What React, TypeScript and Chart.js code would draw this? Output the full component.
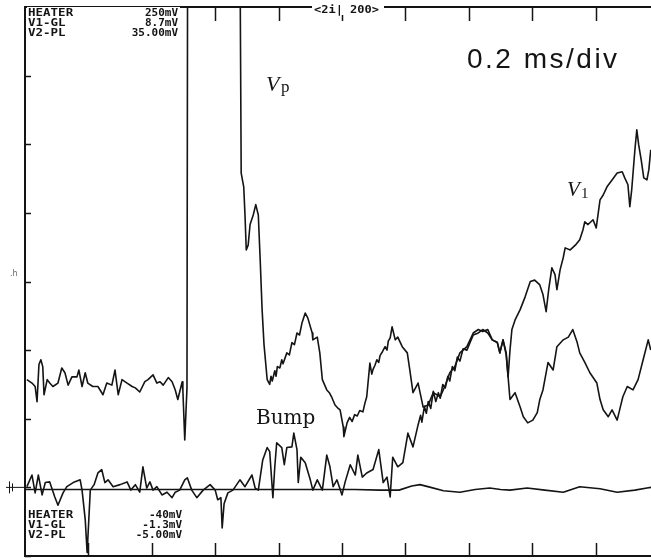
import React, { useEffect, useRef } from "react";
import { Chart, registerables } from "chart.js";

Chart.register(...registerables);

// x in screen divisions (0.2 ms/div), y in vertical divisions (0 = ground)
const xRange = [0, 9.874];
const yRange = [-1, 7];
const xTickDivs = [1, 2, 3, 4, 5, 6, 7, 8, 9];
const yTickDivs = [-1, 0, 1, 2, 3, 4, 5, 6];

const vpTrace: [number, number][] = [
  [0.03, 1.57], [0.11, 1.52], [0.16, 1.47], [0.19, 1.25], [0.22, 1.79], [0.25, 1.86], [0.28, 1.76], [0.30, 1.35],
  [0.35, 1.57], [0.39, 1.52], [0.44, 1.47], [0.52, 1.52], [0.58, 1.74], [0.63, 1.67], [0.68, 1.49], [0.74, 1.61],
  [0.82, 1.61], [0.85, 1.71], [0.90, 1.47], [0.95, 1.67], [0.99, 1.52], [1.07, 1.47], [1.15, 1.47], [1.23, 1.35],
  [1.29, 1.52], [1.37, 1.49], [1.42, 1.71], [1.47, 1.35], [1.53, 1.57], [1.61, 1.52], [1.69, 1.47], [1.74, 1.45],
  [1.81, 1.39], [1.89, 1.54], [1.94, 1.57], [2.02, 1.64], [2.08, 1.52], [2.13, 1.54], [2.18, 1.49], [2.26, 1.60],
  [2.32, 1.54], [2.37, 1.42], [2.41, 1.28], [2.48, 1.54], [2.49, 1.42], [2.52, 0.69], [2.555, 1.45], [2.565, 8],
  [3.39, 8], [3.41, 4.58], [3.45, 4.38], [3.47, 3.97], [3.49, 3.46], [3.52, 3.53], [3.55, 3.83], [3.60, 3.97],
  [3.64, 4.12], [3.68, 3.97], [3.71, 3.31], [3.74, 2.59], [3.77, 2.08], [3.82, 1.57], [3.86, 1.50], [3.88, 1.62],
  [3.90, 1.55], [3.94, 1.70], [3.96, 1.62], [3.98, 1.76], [4.02, 1.74], [4.05, 1.86], [4.07, 1.80], [4.13, 1.96],
  [4.17, 1.93], [4.21, 2.11], [4.25, 2.08], [4.29, 2.25], [4.33, 2.22], [4.37, 2.40], [4.42, 2.54], [4.46, 2.47],
  [4.53, 2.25], [4.54, 2.15], [4.61, 2.19], [4.65, 1.96], [4.69, 1.57], [4.76, 1.42], [4.80, 1.38], [4.84, 1.31],
  [4.89, 1.20], [4.93, 1.16], [4.97, 1.13], [5.02, 0.88], [5.03, 0.74], [5.08, 0.94], [5.12, 1.02], [5.16, 0.96],
  [5.20, 1.06], [5.24, 1.04], [5.28, 1.12], [5.33, 1.10], [5.36, 1.22], [5.39, 1.32], [5.44, 1.81], [5.47, 1.65],
  [5.49, 1.72], [5.52, 1.78], [5.55, 1.86], [5.58, 1.82], [5.60, 1.92], [5.64, 1.98], [5.68, 2.05], [5.71, 2.00],
  [5.73, 2.13], [5.76, 2.18], [5.79, 2.34], [5.84, 2.15], [5.88, 2.19], [5.95, 2.05], [6.03, 1.96], [6.07, 1.71],
  [6.12, 1.38], [6.20, 1.52], [6.28, 1.17], [6.36, 1.20], [6.44, 1.38], [6.55, 1.32], [6.63, 1.49], [6.70, 1.67],
  [6.78, 1.76], [6.86, 1.96], [6.97, 2.05], [7.07, 2.25], [7.15, 2.30], [7.22, 2.27], [7.30, 2.30], [7.37, 2.15],
  [7.45, 2.11], [7.49, 1.96], [7.54, 2.15], [7.59, 1.96], [7.62, 1.61], [7.65, 1.28], [7.73, 1.38], [7.81, 1.17],
  [7.86, 1.03], [7.93, 0.94], [8.01, 0.98], [8.08, 1.09], [8.12, 1.28], [8.17, 1.42], [8.25, 1.82], [8.33, 1.71],
  [8.39, 2.05], [8.49, 2.15], [8.57, 2.19], [8.64, 2.30], [8.71, 2.11], [8.75, 1.96], [8.83, 1.82], [8.91, 1.67],
  [9.02, 1.52], [9.07, 1.28], [9.12, 1.13], [9.20, 1.03], [9.26, 1.13], [9.34, 0.98], [9.39, 1.17], [9.43, 1.32],
  [9.50, 1.47], [9.59, 1.42], [9.67, 1.57], [9.75, 1.86], [9.83, 2.15], [9.87, 2.00],
];

const v1Trace: [number, number][] = [
  [0.03, 0.01], [0.11, 0.18], [0.16, -0.08], [0.21, 0.18], [0.27, -0.11], [0.32, 0.07], [0.39, 0.08], [0.47, -0.14],
  [0.52, -0.26], [0.60, -0.08], [0.66, 0.01], [0.76, 0.07], [0.87, 0.11], [0.90, -0.04], [0.95, -0.47], [0.98, -0.95],
  [0.99, -0.77], [1.03, -0.04], [1.09, 0.04], [1.15, 0.21], [1.21, 0.26], [1.26, 0.07], [1.31, 0.11], [1.39, 0.01],
  [1.50, 0.04], [1.61, 0.08], [1.67, -0.04], [1.74, 0.04], [1.81, -0.07], [1.86, 0.30], [1.92, -0.01], [1.97, 0.08],
  [2.02, -0.04], [2.08, 0.01], [2.16, -0.11], [2.24, -0.07], [2.32, -0.15], [2.37, -0.07], [2.44, -0.04], [2.52, 0.11],
  [2.56, 0.14], [2.63, -0.04], [2.71, -0.15], [2.81, -0.04], [2.92, 0.04], [3.00, -0.04], [3.04, -0.18], [3.09, -0.15],
  [3.11, -0.59], [3.14, -0.24], [3.20, -0.08], [3.28, -0.04], [3.39, 0.11], [3.47, 0.01], [3.58, 0.18], [3.63, -0.01],
  [3.68, -0.04], [3.75, 0.40], [3.82, 0.58], [3.86, 0.52], [3.91, -0.15], [3.94, 0.30], [3.97, 0.65], [4.05, 0.58],
  [4.09, 0.33], [4.13, 0.58], [4.21, 0.59], [4.24, 0.79], [4.29, 0.55], [4.31, 0.07], [4.35, 0.44], [4.42, 0.36],
  [4.50, 0.11], [4.54, -0.04], [4.61, 0.11], [4.69, -0.04], [4.76, 0.47], [4.81, 0.30], [4.86, 0.01], [4.92, 0.11],
  [5.00, -0.11], [5.05, 0.08], [5.13, 0.33], [5.21, 0.18], [5.25, 0.47], [5.32, 0.15], [5.39, 0.21], [5.49, 0.26],
  [5.58, 0.55], [5.65, 0.07], [5.71, 0.15], [5.76, -0.14], [5.80, 0.44], [5.88, 0.30], [5.96, 0.36], [6.04, 0.79],
  [6.12, 0.59], [6.20, 0.91], [6.24, 1.05], [6.26, 0.95], [6.30, 1.18], [6.33, 1.08], [6.36, 1.25], [6.40, 1.15],
  [6.44, 1.40], [6.48, 1.25], [6.52, 1.38], [6.55, 1.30], [6.59, 1.50], [6.63, 1.45], [6.67, 1.62], [6.70, 1.55],
  [6.74, 1.76], [6.78, 1.70], [6.82, 1.90], [6.86, 1.84], [6.91, 2.02], [6.97, 2.00], [7.07, 2.22], [7.15, 2.25],
  [7.22, 2.30], [7.30, 2.25], [7.37, 2.15], [7.45, 2.11], [7.49, 1.96], [7.54, 2.15], [7.59, 1.93], [7.62, 1.61],
  [7.65, 2.00], [7.68, 2.30], [7.73, 2.44], [7.81, 2.59], [7.89, 2.78], [7.97, 3.00], [8.04, 3.02], [8.12, 2.95],
  [8.17, 2.81], [8.22, 2.56], [8.26, 2.88], [8.31, 3.20], [8.36, 3.10], [8.39, 2.88], [8.44, 3.17], [8.49, 3.35],
  [8.52, 3.49], [8.60, 3.46], [8.68, 3.53], [8.75, 3.61], [8.80, 3.75], [8.83, 3.87], [8.88, 3.83], [8.96, 3.90],
  [9.01, 3.78], [9.07, 4.19], [9.12, 4.26], [9.18, 4.38], [9.26, 4.48], [9.34, 4.58], [9.42, 4.60], [9.46, 4.51],
  [9.51, 4.41], [9.54, 4.09], [9.57, 4.34], [9.62, 4.92], [9.65, 5.21], [9.68, 4.99], [9.72, 4.77], [9.76, 4.51],
  [9.81, 4.48], [9.84, 4.63], [9.87, 4.92],
];

const heaterTrace: [number, number][] = [
  [0.0, -0.03], [4.8, -0.03], [5.2, -0.03], [5.6, -0.04], [5.9, -0.04], [6.1, 0.02], [6.23, 0.04], [6.4, 0.0],
  [6.6, -0.05], [6.86, -0.07], [7.1, -0.03], [7.33, -0.01], [7.5, -0.03], [7.65, -0.04], [7.92, -0.01], [8.2, -0.04],
  [8.49, -0.07], [8.75, 0.01], [9.07, -0.02], [9.34, -0.07], [9.62, -0.04], [9.81, -0.01], [9.874, 0.0],
];

const topReadout: [string, string][] = [["HEATER", "250mV"], ["V1-GL", "8.7mV"], ["V2-PL", "35.00mV"]];
const bottomReadout: [string, string][] = [["HEATER", "-40mV"], ["V1-GL", "-1.3mV"], ["V2-PL", "-5.00mV"]];
const headerTag = "<2i| 200>";
const timebase = "0.2 ms/div";

const INK = "#141414";

const scopePlugin = {
  id: "scopeDecor",
  afterDatasetsDraw(chart: any) {
    const { ctx, chartArea } = chart;
    const xs = chart.scales.x;
    const ys = chart.scales.y;
    const L = chartArea.left, T = chartArea.top, R = chartArea.right, B = chartArea.bottom;
    ctx.save();
    ctx.strokeStyle = INK;
    ctx.fillStyle = INK;
    // frame
    ctx.lineWidth = 2;
    ctx.beginPath();
    ctx.moveTo(R + 2, T); ctx.lineTo(L, T); ctx.lineTo(L, B); ctx.lineTo(R + 2, B);
    ctx.stroke();
    // ticks
    ctx.lineWidth = 1.5;
    xTickDivs.forEach((d) => {
      const px = Math.round(xs.getPixelForValue(d)) + 0.5;
      ctx.beginPath(); ctx.moveTo(px, T); ctx.lineTo(px, T + 14); ctx.stroke();
      ctx.beginPath(); ctx.moveTo(px, B - 13); ctx.lineTo(px, B); ctx.stroke();
    });
    yTickDivs.forEach((d) => {
      const py = Math.round(ys.getPixelForValue(d)) + 0.5;
      ctx.beginPath(); ctx.moveTo(L, py); ctx.lineTo(L + 6, py); ctx.stroke();
    });
    // ground marker
    const g = ys.getPixelForValue(0);
    ctx.lineWidth = 1;
    ctx.beginPath();
    ctx.moveTo(6, g); ctx.lineTo(L, g);
    ctx.moveTo(9.5, g - 6); ctx.lineTo(9.5, g + 6);
    ctx.moveTo(12.5, g - 4); ctx.lineTo(12.5, g + 4);
    ctx.stroke();
    ctx.font = "8px 'DejaVu Sans'";
    ctx.fillStyle = "#666";
    ctx.fillText(".h", 10, ys.getPixelForValue(3) - 6);
    ctx.fillStyle = INK;

    // readouts
    const readout = (rows: [string, string][], y0: number, rightX: number, blank: boolean) => {
      ctx.save();
      if (blank) {
        ctx.fillStyle = "#fff";
        ctx.fillRect(L + 2, y0 - 9, rightX - L, rows.length * 10 + 1);
      }
      ctx.fillStyle = INK;
      rows.forEach(([name, val], i) => {
        const y = y0 + i * 10;
        ctx.save();
        ctx.translate(L + 3, y);
        ctx.scale(1.25, 1);
        ctx.font = "bold 10px 'DejaVu Sans Mono'";
        ctx.textAlign = "left";
        ctx.fillText(name, 0, 0);
        ctx.restore();
        ctx.save();
        ctx.translate(rightX, y);
        ctx.scale(1.1, 1);
        ctx.font = "bold 10px 'DejaVu Sans Mono'";
        ctx.textAlign = "right";
        ctx.fillText(val, 0, 0);
        ctx.restore();
      });
      ctx.restore();
    };
    readout(topReadout, T + 9, 178, true);
    readout(bottomReadout, B - 38, 182, false);

    // header tag across top border
    ctx.fillStyle = "#fff";
    ctx.fillRect(312, 1, 72, 14);
    ctx.fillStyle = INK;
    ctx.save();
    ctx.translate(314, 13);
    ctx.scale(1.2, 1);
    ctx.font = "bold 10px 'DejaVu Sans Mono'";
    ctx.fillText(headerTag, 0, 0);
    ctx.restore();

    // timebase label
    ctx.font = "28px 'Liberation Sans'";
    (ctx as any).letterSpacing = "2.5px";
    ctx.textAlign = "left";
    ctx.fillText(timebase, 467, 68);
    (ctx as any).letterSpacing = "0px";

    // Vp label
    ctx.font = "italic 22px 'Liberation Serif'";
    ctx.fillText("V", 266, 91);
    ctx.font = "17px 'Liberation Serif'";
    ctx.fillText("p", 281, 92);

    // V1 label
    ctx.font = "italic 21px 'Liberation Serif'";
    ctx.fillText("V", 567, 196);
    ctx.font = "15px 'Liberation Serif'";
    ctx.fillText("1", 581, 198);

    // Bump label
    ctx.font = "20px 'DejaVu Serif'";
    ctx.fillText("Bump", 256, 424);
    ctx.restore();
  },
};

export default function App() {
  const ref = useRef<HTMLCanvasElement | null>(null);
  useEffect(() => {
    if (!ref.current) return;
    const line = (data: [number, number][]) => ({
      data: data.map(([x, y]) => ({ x, y })),
      borderColor: INK,
      borderWidth: 1.6,
      pointRadius: 0,
      tension: 0,
      fill: false,
      borderJoinStyle: "round" as const,
    });
    const chart = new Chart(ref.current, {
      type: "line",
      data: {
        datasets: [line(heaterTrace), line(v1Trace), line(vpTrace)],
      },
      options: {
        animation: false,
        responsive: false,
        maintainAspectRatio: false,
        layout: { padding: { left: 25, top: 7, right: 0, bottom: 4 } },
        plugins: { legend: { display: false }, tooltip: { enabled: false } },
        scales: {
          x: { type: "linear", display: false, min: xRange[0], max: xRange[1] },
          y: { type: "linear", display: false, min: yRange[0], max: yRange[1] },
        },
      },
      plugins: [scopePlugin],
    });
    return () => chart.destroy();
  }, []);
  return (
    <div style={{ position: "fixed", left: 0, top: 0, width: 651, height: 560, background: "#fff" }}>
      <canvas ref={ref} width={651} height={560} style={{ display: "block" }} />
    </div>
  );
}
